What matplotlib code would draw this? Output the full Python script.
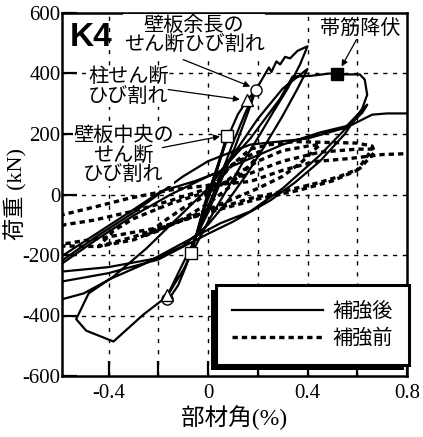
import numpy as np
import matplotlib
matplotlib.use('Agg')
import matplotlib.pyplot as plt
from matplotlib.patches import Rectangle

plt.rcParams['axes.unicode_minus'] = False
plt.rcParams['font.family'] = ['Liberation Serif', 'Noto Sans CJK JP']

jp = ['Noto Sans CJK JP', 'DejaVu Sans']

# 補強後 (drift %, load kN), cycle by cycle
after_c1 = [(0, 0), (0.04, 100), (0.076, 192), (0.05, 120), (0.02, 30), (-0.02, -60),
            (-0.068, -195), (-0.04, -110), (-0.01, -20)]
after_c2 = [(0.03, 70), (0.08, 190), (0.12, 265), (0.157, 311), (0.193, 347), (0.16, 270),
            (0.11, 160), (0.05, 40), (0, -60), (-0.06, -160), (-0.12, -260), (-0.165, -337),
            (-0.165, -355), (-0.12, -300), (-0.09, -240), (-0.05, -140), (0, -40), (0.05, 60)]
after_c3 = [(0.1, 170), (0.15, 270), (0.193, 347), (0.22, 385), (0.245, 420), (0.255, 405),
            (0.275, 440), (0.29, 430), (0.31, 455), (0.33, 450), (0.36, 475), (0.40, 490),
            (0.37, 430), (0.32, 350), (0.26, 270), (0.21, 200), (0.15, 120), (0.1, 50),
            (0.05, -20), (0, -90), (-0.05, -170), (-0.1, -250), (-0.165, -337), (-0.26, -397),
            (-0.38, -486), (-0.49, -450), (-0.53, -412)]
after_c4 = [(-0.48, -327), (-0.38, -271), (-0.25, -180), (-0.1, -60), (0, 20), (0.1, 130),
            (0.2, 250), (0.3, 350), (0.40, 415),
            (0.36, 350), (0.3, 260), (0.22, 150), (0.15, 60), (0.08, -20), (0, -100),
            (-0.1, -170), (-0.2, -210), (-0.4, -240), (-0.59, -255), (-0.8, -300)]
after_c5 = [(-0.59, -205), (-0.45, -130), (-0.3, -50), (-0.19, 10), (-0.05, 45), (0.05, 76),
            (0.17, 185), (0.29, 317), (0.34, 390), (0.41, 392), (0.49, 400), (0.52, 397),
            (0.61, 397), (0.63, 380), (0.64, 330), (0.62, 284),
            (0.55, 200), (0.45, 110), (0.35, 40), (0.25, -20), (0.1, -90), (0, -130),
            (-0.2, -215), (-0.4, -260), (-0.59, -288), (-0.8, -370)]
after_c6 = [(-0.59, -347), (-0.5, -327), (-0.39, -278), (-0.26, -231), (-0.1, -160),
            (0.05, -95), (0.17, -56), (0.3, 20), (0.45, 130), (0.55, 215), (0.62, 270),
            (0.64, 297), (0.55, 220), (0.4, 185), (0.17, 165), (0, 110), (-0.1, 60), (-0.2, 0),
            (-0.3, -60), (-0.45, -140), (-0.59, -220), (-0.8, -260)]
after_c7 = [(-0.59, -230), (-0.45, -150), (-0.3, -70), (-0.15, 0), (0, 60), (0.17, 119),
            (0.3, 165), (0.45, 205), (0.58, 231), (0.66, 264), (0.72, 268), (0.8, 268),
            (0.9, 270)]

# 補強前
before_c1 = [(0, 0), (0.05, 60), (0.1, 100), (0.17, 130), (0.22, 145),
             (0.15, 80), (0.08, 20), (0, -30), (-0.1, -80), (-0.2, -120), (-0.25, -135),
             (-0.18, -90), (-0.1, -45), (0, 0)]
before_c2 = [(0.1, 60), (0.2, 110), (0.3, 145), (0.4, 160), (0.45, 165),
             (0.38, 110), (0.3, 60), (0.2, 20), (0.1, -15), (0, -50), (-0.15, -100),
             (-0.3, -150), (-0.44, -172), (-0.38, -120), (-0.3, -80), (-0.15, -30), (0, 10)]
before_c3 = [(0.1, 100), (0.17, 150), (0.25, 165), (0.35, 175), (0.48, 172), (0.6, 170),
             (0.66, 160), (0.67, 140), (0.61, 86), (0.53, 60), (0.44, 38), (0.3, 10),
             (0.17, -13), (0, -55), (-0.15, -100), (-0.3, -140), (-0.44, -172), (-0.6, -170),
             (-0.7, -165)]
before_c4 = [(-0.62, -110), (-0.57, -99), (-0.46, -85), (-0.3, -55), (-0.15, -20), (0, 20),
             (0.17, 70), (0.3, 110), (0.45, 140), (0.6, 150), (0.66, 150),
             (0.6, 80), (0.5, 45), (0.37, 15), (0.2, -15), (0, -60), (-0.2, -110),
             (-0.4, -140), (-0.57, -162), (-0.7, -160)]
before_c5 = [(-0.62, -80), (-0.58, -66), (-0.45, -40), (-0.32, -13), (-0.15, 15), (0, 30),
             (0.17, 43), (0.3, 80), (0.43, 109), (0.57, 119), (0.7, 132), (0.8, 135),
             (0.9, 138)]

# events
mark_square = [(0.076, 192), (-0.068, -195)]
mark_triangle = [(0.157, 311), (-0.165, -333)]
mark_circle = [(0.193, 347), (-0.165, -346)]
mark_yield = [(0.518, 397)]

after = np.array(after_c1 + after_c2 + after_c3 + after_c4 + after_c5 + after_c6 + after_c7)
before = np.array(before_c1 + before_c2 + before_c3 + before_c4 + before_c5)

fig = plt.figure(figsize=(4.23, 4.37), dpi=100)
ax = fig.add_axes([62/423, 1-376/437, 345/423, 363/437])

ax.plot(before[:, 0], before[:, 1], color='k', lw=2.4, dashes=(1.6, 1.2), label='補強前', zorder=3)
ax.plot(after[:, 0], after[:, 1], color='k', lw=1.6, label='補強後', zorder=4)

for (x, y) in mark_square:
    ax.plot(x, y, 's', ms=8, mfc='white', mec='k', mew=1, zorder=6)
for (x, y) in mark_triangle:
    ax.plot(x, y, '^', ms=8, mfc='white', mec='k', mew=1, zorder=6)
for (x, y) in mark_circle:
    ax.plot(x, y, 'o', ms=8, mfc='white', mec='k', mew=1, zorder=5)
for (x, y) in mark_yield:
    ax.plot(x, y, 's', ms=9, mfc='k', mec='k', zorder=6)

ax.set_xlim(-0.587, 0.8)
ax.set_ylim(-600, 600)
ax.set_xticks([-0.4, -0.2, 0, 0.2, 0.4, 0.6, 0.8])
ax.set_xticklabels(['-0.4', '', '0', '', '0.4', '', '0.8'], family='Liberation Serif')
ax.set_yticks([-600, -400, -200, 0, 200, 400, 600])
ax.set_yticklabels(['-600', '-400', '-200', '0', '200', '400', '600'], family='Liberation Serif')
ax.tick_params(axis='both', direction='in', length=11, width=1.6, labelsize=15)
ax.tick_params(axis='y', pad=1)
ax.tick_params(axis='x', pad=6)
for s in ax.spines.values():
    s.set_linewidth(1.8)

for gx in [-0.4, -0.2, 0, 0.2, 0.4, 0.6]:
    ax.axvline(gx, color='k', lw=1, ls=(0, (3, 5)), zorder=1)
for gy in [-400, -200, 0, 200, 400]:
    ax.axhline(gy, color='k', lw=1, ls=(0, (3, 4)), zorder=1)

ax.set_xlabel('部材角(%)', fontsize=17)
ax.set_ylabel('荷重 (kN)', fontsize=16)
ax.xaxis.set_label_coords(0.5, -0.08)
ax.yaxis.set_label_coords(-0.10, 0.5)

ax.text(-0.555, 520, 'K4', family='Liberation Sans', fontweight='bold', fontsize=24,
        va='center', ha='left', zorder=8)

box = dict(fc='white', ec='none', pad=0.5)
ax.text(-0.056, 527, '壁板余長の\nせん断ひび割れ', family=jp, fontsize=14.5, ha='center',
        va='center', linespacing=0.9, bbox=box, zorder=7)
ax.text(-0.32, 357, '柱せん断\nひび割れ', family=jp, fontsize=14.5, ha='center', va='center',
        linespacing=0.9, bbox=box, zorder=7)
ax.text(-0.34, 130, '壁板中央の\nせん断\nひび割れ', family=jp, fontsize=14.5, ha='center',
        va='center', linespacing=0.9, bbox=box, zorder=7)
ax.text(0.613, 545, '帯筋降伏', family=jp, fontsize=14.5, ha='center', va='center', zorder=7)

arr = dict(arrowstyle='-|>', lw=0.9, color='k', mutation_scale=9, shrinkA=0, shrinkB=0)
ax.annotate('', xy=(0.17, 357), xytext=(-0.10, 446), arrowprops=arr, zorder=7)
ax.annotate('', xy=(0.128, 314), xytext=(-0.16, 347), arrowprops=arr, zorder=7)
ax.annotate('', xy=(0.048, 192), xytext=(-0.184, 155), arrowprops=arr, zorder=7)
ax.annotate('', xy=(0.537, 423), xytext=(0.597, 512), arrowprops=arr, zorder=7)

handles, labels = ax.get_legend_handles_labels()
leg = ax.legend(handles[::-1], labels[::-1], loc='lower right', bbox_to_anchor=(1.006, 0.03),
                prop={'family': jp, 'size': 14.5}, handlelength=4.5, handletextpad=0.5,
                borderpad=0.8, labelspacing=0.3, borderaxespad=0, fancybox=False,
                framealpha=1, edgecolor='k')
leg.get_frame().set_linewidth(2.2)
leg.set_zorder(9)

# shadow down-left of the legend box, as in the scan
fig.canvas.draw()
bb = leg.get_window_extent().transformed(ax.transAxes.inverted())
dx, dy = 5 / 345, 5 / 363
ax.add_patch(Rectangle((bb.x0 - dx, bb.y0 - dy), bb.width, bb.height, transform=ax.transAxes,
                       fc='k', ec='none', clip_on=False, zorder=8.5))

fig.savefig('out.png', dpi=100)
